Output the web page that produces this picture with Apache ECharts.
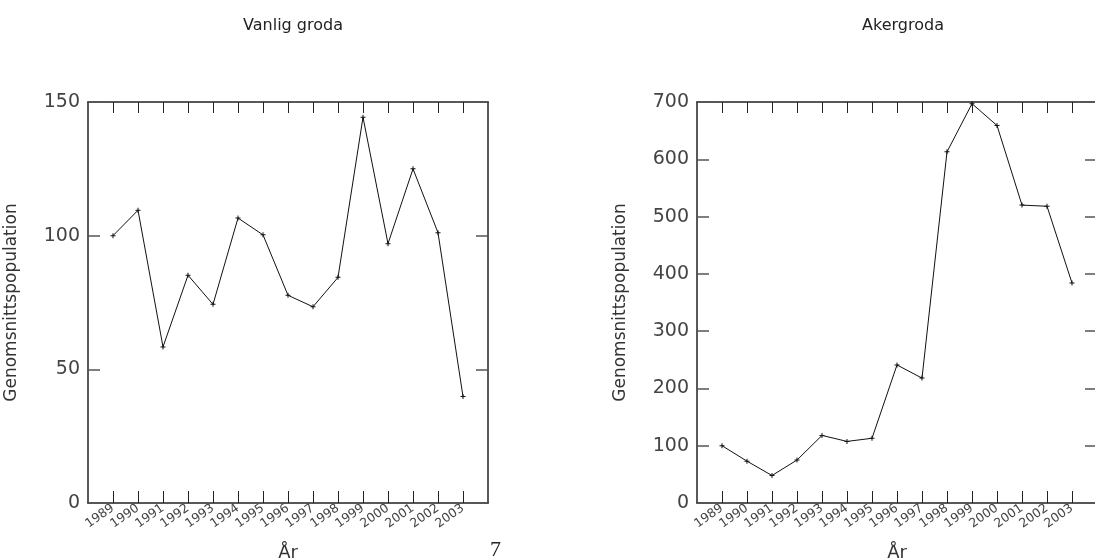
<!DOCTYPE html>
<html>
<head>
<meta charset="utf-8">
<script src="https://cdn.jsdelivr.net/npm/echarts@6/dist/echarts.min.js"></script>
<style>
  html, body { margin: 0; padding: 0; background: #fff; }
  #main { width: 1095px; height: 560px; }
</style>
</head>
<body>
<div id="main"></div>
<script>
// år 1989-2003
var years = [1989, 1990, 1991, 1992, 1993, 1994, 1995, 1996, 1997, 1998, 1999, 2000, 2001, 2002, 2003];
var vanligGroda = [100, 109.5, 58.4, 85.2, 74.3, 106.6, 100.3, 77.7, 73.4, 84.4, 144.3, 97, 125, 101.1, 39.8];
var akergroda = [100, 73, 48, 75, 118, 107.5, 113, 241, 218, 613, 697, 659, 520, 518, 384];
var titles = ['Vanlig groda', 'Akergroda'];

var font = 'DejaVu Sans';
var plus = 'path://M-0.6,-3H0.6V-0.6H3V0.6H0.6V3H-0.6V0.6H-3V-0.6H-0.6Z';

function pairs(vals) {
  return years.map(function (y, i) { return [y, vals[i]]; });
}

// nedre x-axel med etiketter, övre bara med streck
function xAxes(gi) {
  return [{
    type: 'value', gridIndex: gi, position: 'bottom',
    min: 1988, max: 2004, interval: 1,
    name: 'År', nameLocation: 'middle', nameGap: 41,
    nameTextStyle: { fontFamily: font, fontSize: 18, color: '#333' },
    axisLine: { onZero: false, lineStyle: { color: '#222', width: 1.5 } },
    axisTick: { inside: true, length: 12, lineStyle: { color: '#222' },
      customValues: years },
    axisLabel: { fontFamily: font, fontSize: 12.5, color: '#444', rotate: 35,
      margin: 4, customValues: years,
      formatter: function (v) { return String(v); } },
    splitLine: { show: false }
  }, {
    type: 'value', gridIndex: gi, position: 'top',
    min: 1988, max: 2004, interval: 1,
    axisLine: { onZero: false, lineStyle: { color: '#222', width: 1.5 } },
    axisTick: { inside: true, length: 11, lineStyle: { color: '#222' },
      customValues: years },
    axisLabel: { show: false },
    splitLine: { show: false }
  }];
}

function yAxes(gi, max, step, gap) {
  return [{
    type: 'value', gridIndex: gi, position: 'left',
    min: 0, max: max, interval: step,
    name: 'Genomsnittspopulation', nameLocation: 'middle', nameGap: gap,
    nameTextStyle: { fontFamily: font, fontSize: 17, color: '#333' },
    axisLine: { show: true, onZero: false, lineStyle: { color: '#222', width: 1.5 } },
    axisTick: { inside: true, length: 12, lineStyle: { color: '#555', width: 1.5 } },
    axisLabel: { fontFamily: font, fontSize: 19, color: '#444', margin: 8 },
    splitLine: { show: false }
  }, {
    type: 'value', gridIndex: gi, position: 'right',
    min: 0, max: max, interval: step,
    axisLine: { show: true, onZero: false, lineStyle: { color: '#222', width: 1.5 } },
    axisTick: { inside: true, length: 12, lineStyle: { color: '#555', width: 1.5 } },
    axisLabel: { show: false },
    splitLine: { show: false }
  }];
}

var chart = echarts.init(document.getElementById('main'));
chart.setOption({
  animation: false,
  backgroundColor: '#fff',
  title: [
    { text: titles[0], left: 288, top: 13, textAlign: 'center',
      textStyle: { fontFamily: font, fontSize: 16, fontWeight: 'normal', color: '#222' } },
    { text: titles[1], left: 898, top: 13, textAlign: 'center',
      textStyle: { fontFamily: font, fontSize: 16, fontWeight: 'normal', color: '#222' } }
  ],
  grid: [
    { left: 88, top: 102, width: 400, height: 401, outerBoundsMode: 'none', containLabel: false },
    { left: 697, top: 102, width: 400, height: 401, outerBoundsMode: 'none', containLabel: false }
  ],
  xAxis: xAxes(0).concat(xAxes(1)),
  yAxis: yAxes(0, 150, 50, 68).concat(yAxes(1, 700, 100, 68)),
  series: [
    { type: 'line', xAxisIndex: 0, yAxisIndex: 0, data: pairs(vanligGroda),
      symbol: plus, symbolSize: 5, showAllSymbol: true,
      lineStyle: { color: '#111', width: 1 }, itemStyle: { color: '#111' } },
    { type: 'line', xAxisIndex: 2, yAxisIndex: 2, data: pairs(akergroda),
      symbol: plus, symbolSize: 5, showAllSymbol: true,
      lineStyle: { color: '#111', width: 1 }, itemStyle: { color: '#111' } }
  ],
  graphic: [
    { type: 'text', left: 490, top: 539,
      style: { text: '7', fontFamily: 'Liberation Serif', fontSize: 22, fill: '#222' } }
  ]
});
</script>
</body>
</html>
